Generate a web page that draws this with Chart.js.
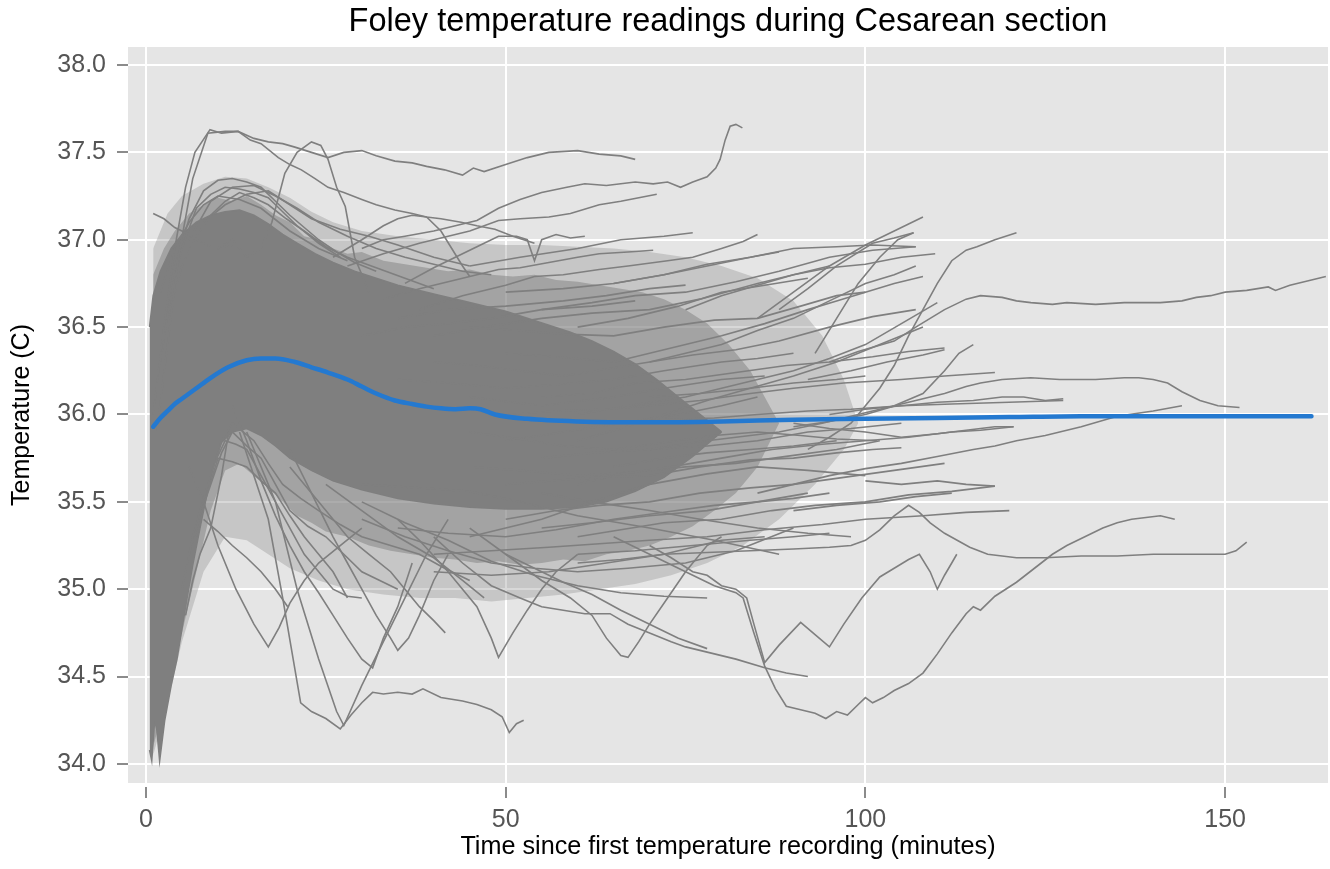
<!DOCTYPE html>
<html><head><meta charset="utf-8">
<script src="https://cdn.jsdelivr.net/npm/chart.js@4.4.1/dist/chart.umd.min.js"></script>
<style>html,body{margin:0;padding:0;background:#fff;}canvas{display:block;}</style>
</head><body>
<canvas id="c" width="1330" height="869"></canvas>
<script>
const xTicks=[0,50,100,150];
const yTicks=[34.0,34.5,35.0,35.5,36.0,36.5,37.0,37.5,38.0];

// density envelopes of the overlapping patient traces
const outerUpper=[[1,36.95],[3,37.15],[5,37.25],[8,37.32],[11,37.36],[14,37.35],[17,37.3],[20,37.24],[23,37.16],[26,37.1],[30,37.05],[35,37.02],[40,37.0],[45,36.98],[50,36.97],[55,36.97],[60,36.96],[65,36.95],[70,36.93],[75,36.9],[80,36.85],[85,36.78],[90,36.65],[94,36.45],[97,36.2],[99,35.95]];
const outerLower=[[1,34.05],[3,34.35],[5,34.7],[8,35.1],[11,35.3],[14,35.28],[17,35.2],[20,35.12],[24,35.05],[28,35.0],[33,34.97],[38,34.95],[43,34.95],[48,34.93],[53,34.95],[58,34.97],[63,35.0],[68,35.03],[73,35.08],[78,35.15],[83,35.25],[88,35.4],[93,35.6],[97,35.8],[99,35.95]];
const innerUpper=[[1,36.8],[2.5,36.95],[4,37.05],[6,37.15],[8,37.2],[10,37.24],[12,37.22],[14,37.25],[16,37.2],[18,37.14],[20,37.1],[22,37.02],[24,37.0],[26,36.95],[28,36.92],[30,36.93],[33,36.88],[36,36.86],[39,36.84],[42,36.82],[45,36.83],[48,36.8],[51,36.79],[54,36.8],[57,36.77],[60,36.76],[63,36.74],[66,36.72],[69,36.7],[72,36.66],[75,36.6],[78,36.52],[81,36.4],[84,36.25],[86,36.1],[88,35.95]];
const innerLower=[[1,34.1],[3,34.4],[5,34.75],[7,35.1],[9,35.45],[11,35.68],[13,35.72],[15,35.65],[17,35.58],[19,35.5],[21,35.42],[23,35.38],[25,35.33],[28,35.3],[31,35.25],[34,35.22],[37,35.2],[40,35.18],[43,35.17],[46,35.15],[49,35.16],[52,35.14],[55,35.15],[58,35.17],[61,35.16],[64,35.2],[67,35.22],[70,35.25],[73,35.3],[76,35.36],[79,35.45],[82,35.55],[85,35.7],[88,35.95]];
const coreUpper=[[0.5,36.5],[1,36.68],[2,36.82],[3.5,36.95],[5,37.03],[7,37.1],[9,37.14],[11,37.16],[13,37.17],[15,37.14],[17,37.09],[19,37.03],[21,36.98],[23.5,36.92],[26,36.87],[29,36.82],[32,36.78],[35,36.74],[38,36.71],[41,36.68],[44,36.65],[47,36.62],[50,36.59],[53,36.55],[56,36.51],[59,36.47],[62,36.42],[65,36.36],[68,36.29],[71,36.2],[74,36.1],[77,36.0],[80,35.9]];
const coreLower=[[0.5,34.08],[0.8,34.02],[1.2,34.25],[1.5,34.2],[1.9,34.02],[2.6,34.25],[3.5,34.45],[4.3,34.6],[5.5,34.9],[6.5,35.14],[7.5,35.35],[8.5,35.55],[9.5,35.72],[10.5,35.84],[12,35.9],[14,35.92],[16,35.88],[18,35.82],[20,35.75],[23,35.68],[26,35.62],[30,35.57],[35,35.52],[40,35.49],[45,35.47],[50,35.46],[55,35.46],[60,35.47],[64,35.5],[68,35.56],[72,35.64],[76,35.76],[80,35.9]];

const topLines=[
[[1,36.0],[2.5,36.5],[4,36.95],[5.5,37.3],[6.8,37.5],[8.9,37.63],[10.5,37.61],[12.8,37.62],[15,37.58],[17,37.56],[19,37.55],[20.7,37.53],[23,37.5],[25.3,37.47],[27.5,37.5],[30,37.51],[32,37.48],[34.6,37.45],[37,37.44],[39,37.42],[41.5,37.4],[44,37.37],[45.5,37.41],[47,37.39],[50,37.43],[53,37.47],[56,37.5],[60,37.51],[63,37.49],[66,37.48],[68,37.46]],
[[1.5,35.9],[3,36.4],[4.5,36.9],[6.5,37.35],[8.6,37.61],[11,37.62],[12.8,37.62],[14.5,37.57],[16,37.55],[18.4,37.47],[20,37.43],[21.6,37.4],[23.5,37.35],[25.3,37.3],[27.5,37.27],[30,37.23],[32,37.2],[34.6,37.17],[37,37.15],[39,37.13],[41,37.12],[43.8,37.1],[46,37.08],[48.5,37.06],[51,37.02],[54,36.98]],
[[10,36.95],[12,37.0],[14,36.9],[16,36.95],[17.5,37.1],[19.3,37.38],[21,37.5],[23,37.56],[24.3,37.54],[25.3,37.46],[26.5,37.3],[27.7,37.19],[29,36.9],[31,36.7]],
[[1,37.15],[2.5,37.12],[4,37.07],[5.5,37.04],[7,37.0],[8.5,36.97],[10,36.95],[12,36.97]],
[[30,36.95],[33,37.0],[36,37.02],[40,37.05],[43,37.08],[46,37.11],[49,37.18],[52,37.23],[55,37.27],[58.5,37.3],[61,37.32],[64,37.31],[68,37.33],[70.5,37.32],[72.5,37.33],[74.3,37.3],[76,37.33],[78,37.36],[79.2,37.41],[79.8,37.46],[80.5,37.57],[81.2,37.65],[82,37.66],[82.9,37.64]],
[[28,36.85],[33,36.92],[38,36.98],[42,37.02],[45,37.05],[49,37.11],[52,37.12],[56,37.13],[59,37.15],[63,37.2],[66,37.22],[68.5,37.24],[71,37.26]],
[[36,36.75],[40,36.84],[43,36.9],[46,36.96],[49,37.02],[51.5,37.02],[53,37.0],[54,36.88],[55,37.0],[57,37.03],[59,37.01],[61,37.02]],
[[33,36.66],[38,36.72],[42,36.76],[46,36.8],[49,36.83],[52,36.84],[56,36.87],[60,36.9],[63,36.92],[67,36.93],[70.5,36.94]],
[[38,36.6],[44,36.68],[50,36.74],[54,36.79],[58,36.8],[63,36.83],[67,36.85],[72.5,36.88],[76,36.9],[80,36.95],[83,36.99],[85,37.03]],
[[26,36.9],[30,37.0],[33,37.08],[35,37.12],[37,37.14],[39,37.13],[41,37.05],[42.5,36.95],[44,36.85],[45,36.79]],
[[2.5,36.5],[4,36.85],[6,37.12],[8,37.28],[10,37.34],[12,37.35],[14,37.33],[16,37.3],[18,37.22],[20,37.14],[22,37.07],[24,37.0],[26.5,36.93],[29,36.87],[32,36.82]],
[[2,36.3],[3.5,36.7],[5,36.95],[7,37.18],[9,37.26],[11,37.3],[13,37.29],[15,37.27],[17,37.24],[19,37.16],[21,37.08],[24,36.98],[27,36.9]],
[[3,36.55],[5,36.85],[7,37.02],[9,37.14],[11,37.22],[13,37.27],[15,37.24],[17,37.2],[19.5,37.12],[22,37.05],[25,36.96],[28,36.9],[32,36.84],[36,36.78],[40,36.72]],
[[6,37.0],[9,37.22],[12,37.3],[15,37.31],[18,37.25],[21,37.18],[24,37.1],[28,37.02],[32,36.95],[36,36.9],[40,36.86],[44,36.82],[48,36.8]],
[[8,37.1],[11,37.2],[14,37.26],[17,37.28],[20,37.2],[23,37.12],[27,37.06],[31,37.02],[35,36.97],[40,36.9],[45,36.85]],
[[2,36.7],[4,36.95],[6,37.1],[8,37.2],[10,37.25],[13,37.23],[16,37.18],[20,37.05],[24,36.95],[28,36.88]],
[[45,36.85],[52,36.9],[60,36.95],[66,37.0],[72,37.02],[76,37.04]],
[[35,36.55],[42,36.6],[50,36.62],[58,36.65],[64,36.68],[70,36.72],[75,36.74]],
[[30,36.45],[36,36.5],[42,36.52],[48,36.55],[55,36.6],[62,36.62],[68,36.65]]
];

const meshLines=[
[[40,36.3],[46,36.28],[52,36.25],[58,36.22],[64,36.26],[70,36.3],[76,36.34],[82,36.37],[88,36.42],[95,36.5],[101,36.56],[107,36.6]],
[[45,35.9],[52,35.86],[58,35.82],[65,35.8],[72,35.84],[79,35.88],[85,35.9],[91,35.88],[96,35.86],[101.6,35.85]],
[[50,35.6],[56,35.62],[63,35.64],[70,35.65],[77,35.7],[84,35.74],[90,35.75],[96,35.78],[101,35.8],[105,35.81]],
[[55,36.1],[62,36.12],[68,36.18],[75,36.2],[82,36.24],[89,36.28],[95,36.3],[101,36.33],[106,36.36],[111,36.38]],
[[50,35.4],[57,35.45],[63,35.48],[70,35.5],[77,35.55],[84,35.58],[90,35.6],[97,35.64],[104,35.68],[111,35.72]],
[[60,35.3],[66,35.34],[72,35.38],[80,35.4],[87,35.45],[93,35.48],[100,35.5],[106,35.54],[112,35.56],[118,35.59]],
[[40,35.2],[48,35.22],[56,35.24],[63,35.26],[70,35.28],[78,35.3],[86,35.34],[94,35.37],[100,35.4],[108,35.42],[114,35.44],[120,35.45]],
[[45,36.5],[52,36.48],[58,36.46],[65,36.45],[72,36.5],[79,36.54],[85,36.55],[91,36.62],[96,36.68],[100,36.7],[104,36.75],[108,36.79]],
[[55,36.6],[62,36.64],[68,36.68],[75,36.7],[82,36.76],[88,36.82],[95,36.9],[101,36.94],[107,36.96]],
[[50,36.0],[57,36.02],[64,36.03],[70,36.05],[77,36.08],[84,36.12],[90,36.15],[97,36.18],[105,36.2],[111,36.22],[118,36.24]],
[[60,35.6],[66,35.66],[73,35.7],[80,35.75],[87,35.8],[94,35.83],[100,35.85],[106,35.87],[112,35.9],[116,35.91],[120.6,35.93]],
[[65,35.95],[72,35.97],[79,35.98],[85,36.0],[92,36.02],[98,36.03],[105,36.05],[112,36.06],[120,36.07],[127.5,36.08]],
[[70,35.8],[76,35.84],[82,35.87],[88,35.9],[94,35.95],[99,36.0],[104,36.05],[108,36.12],[111,36.25],[113,36.35],[115,36.4]],
[[45,35.7],[52,35.68],[60,35.65],[68,35.67],[75,35.7],[82,35.72],[89,35.76],[96,35.8],[102,35.85]],
[[35,35.35],[42,35.32],[50,35.3],[57,35.34],[65,35.4],[72,35.44],[79,35.48],[85,35.5],[90,35.52],[95,35.55]],
[[30,35.4],[36,35.3],[42,35.22],[48,35.15],[54,35.12],[60,35.1],[67,35.12],[75,35.15],[82,35.22],[90,35.35]],
[[40,36.45],[47,36.5],[55,36.55],[62,36.58],[70,36.6],[77,36.66],[85,36.75],[90,36.8],[95,36.85]],
[[50,36.35],[57,36.33],[65,36.3],[72,36.37],[80,36.45],[86,36.52],[92,36.6],[96,36.65],[100,36.7]],
[[60,36.0],[67,36.05],[75,36.1],[82,36.17],[90,36.25],[95,36.32],[100,36.4],[105,36.52],[110,36.64]],
[[35,36.2],[42,36.18],[50,36.15],[57,36.17],[65,36.2],[72,36.25],[80,36.3],[85,36.32],[90,36.35]],
[[55,35.55],[62,35.5],[70,35.45],[77,35.4],[85,35.35],[92,35.32],[98,35.3]],
[[60,35.85],[66,35.92],[72,36.0],[78,36.08],[84,36.15],[90,36.22],[96,36.3],[102,36.4],[108,36.5]],
[[30,35.6],[38,35.58],[45,35.56],[52,35.5],[60,35.42],[70,35.35],[79,35.28],[88,35.2]],
[[45,35.3],[50,35.35],[55,35.4],[62,35.5],[70,35.6],[78,35.66],[85,35.7],[92,35.68],[100,35.65]],
[[70,36.3],[75,36.35],[80,36.4],[85,36.48],[90,36.55],[95,36.65],[100,36.75],[104,36.8],[107,36.85]],
[[75,36.6],[80,36.68],[85,36.74],[90,36.8],[95,36.84],[100,36.86],[105,36.9],[109.7,36.92]],
[[65,36.75],[72,36.8],[78,36.86],[84,36.9],[90,36.95],[96,36.96],[101,36.97],[107,36.96]],
[[55,35.75],[62,35.78],[70,35.8],[78,35.82],[85,35.85],[92,35.9],[98,35.92],[105,35.95]],
[[50,36.7],[58,36.72],[65,36.75],[72,36.8],[78,36.85],[84,36.9],[88,36.93]],
[[45,36.1],[55,36.05],[65,36.1],[72,36.15],[80,36.2],[86,36.22]],
[[50,35.85],[58,35.9],[66,35.95],[74,36.0],[80,36.05],[85,36.1]],
[[55,35.35],[62,35.38],[70,35.42],[78,35.45],[85,35.5],[92,35.55]],
[[40,35.1],[48,35.08],[56,35.1],[64,35.15],[72,35.2],[80,35.28],[86,35.3]],
[[60,36.5],[67,36.55],[74,36.62],[80,36.7],[86,36.74],[92,36.78]],
[[65,35.7],[72,35.75],[78,35.78],[84,35.8],[90,35.82],[96,35.85]],
[[70,36.1],[77,36.12],[84,36.15],[90,36.18],[96,36.2],[100,36.22]],
[[60,35.2],[68,35.22],[76,35.25],[84,35.28],[90,35.3],[95,35.32]]
];

const rightLines=[
[[95,36.3],[99,36.36],[104,36.42],[107,36.5],[109,36.55],[111,36.6],[114,36.66],[116,36.68],[119,36.67],[121,36.65],[123,36.64],[126,36.63],[128,36.64],[132,36.63],[136,36.64],[141,36.64],[144,36.65],[146,36.67],[148,36.68],[150,36.7],[153,36.71],[156,36.73],[157,36.71],[159,36.74],[162,36.77],[164,36.79]],
[[90,35.93],[95,35.96],[100,36.0],[105,36.06],[108,36.09],[111,36.12],[114,36.16],[116,36.18],[119,36.2],[123,36.21],[127,36.2],[132,36.2],[136,36.21],[138,36.21],[140,36.2],[142,36.18],[144,36.13],[146.5,36.08],[149,36.05],[152,36.04]],
[[85,35.55],[90,35.6],[95,35.65],[100,35.69],[105,35.72],[110,35.76],[115,35.8],[118,35.82],[121,35.85],[125,35.88],[130,35.93],[135,35.99],[140,36.02],[144,36.05]],
[[92,35.8],[95,35.87],[98,35.95],[100,36.05],[102,36.15],[104,36.28],[106,36.45],[108,36.6],[110,36.75],[112,36.88],[114,36.94],[115.5,36.96],[118,37.0],[121,37.04]],
[[95,36.0],[100,36.03],[105,36.05],[110,36.07],[115,36.08],[119,36.1],[122,36.1],[125,36.08],[127.5,36.09]],
[[90,35.95],[95,35.92],[100,35.9],[105,35.87],[110,35.89],[114,35.91],[118,35.93],[120.6,35.93]],
[[85,36.55],[90,36.7],[95,36.85],[100,36.97],[104,37.05],[106,37.09],[108,37.13]],
[[88,36.6],[92,36.72],[96,36.85],[101,36.98],[104,37.01],[106.7,37.04]],
[[92,36.2],[98,36.25],[103,36.3],[108,36.34],[111,36.37]],
[[100,35.62],[105,35.6],[110,35.62],[114,35.6],[118,35.59]],
[[93,36.35],[96,36.55],[99,36.75],[102,36.9],[104.5,37.0],[106.7,37.04]],
[[90,35.45],[96,35.48],[102,35.5],[107,35.53],[112,35.55]]
];

const bottomLines=[
[[13,35.9],[15,35.65],[17,35.4],[19,34.95],[21.5,34.35],[23,34.3],[25,34.26],[27,34.2],[28.5,34.28],[30,34.35],[31.5,34.41],[33,34.4],[35,34.41],[37,34.4],[38.5,34.43],[41,34.38],[44,34.36],[46,34.34],[48,34.31],[49.5,34.27],[50.5,34.18],[51.5,34.23],[52.5,34.25]],
[[14,35.9],[18,35.5],[21,35.0],[24,34.6],[26.5,34.3],[27.5,34.22],[30,34.45],[33,34.7],[36,34.95],[39,35.2],[42,35.4]],
[[6,35.7],[8,35.5],[10,35.25],[12.5,35.0],[15,34.8],[17,34.67],[18.5,34.78],[20,34.92],[22,35.05],[24,35.15],[27,35.25],[30,35.35]],
[[5.5,34.85],[6.5,35.05],[7.5,35.2],[9,35.35],[10.5,35.65],[11.5,35.9]],
[[8,35.4],[10,35.33],[12,35.25],[14,35.18],[16,35.1],[18,35.0],[19.7,34.9]],
[[12,36.05],[14,35.85],[16,35.62],[18,35.42],[20,35.25],[22,35.1],[24,34.98],[26,34.85],[28,34.72],[30,34.6],[31.5,34.55],[33,34.72],[35,34.9],[37,35.15]],
[[20,35.8],[23,35.55],[26,35.3],[28,35.15],[30,35.0],[32,34.85],[34,34.72],[35,34.65],[36.5,34.72],[38,34.85],[40,35.05],[42,35.2]],
[[20,35.7],[24,35.5],[28,35.3],[31,35.2],[34,35.1],[36,35.0],[38,34.9],[40,34.82],[41.6,34.75]],
[[35,35.4],[38,35.28],[42,35.1],[44,35.0],[46,34.9],[48,34.72],[49,34.61],[50,34.68],[51,34.75],[53,34.88],[55,35.0],[57,35.1],[60,35.2]],
[[40,35.3],[44,35.15],[48,35.02],[52,34.95],[55,34.9],[58,34.88],[61,34.86],[64.5,34.86],[67,34.8],[70,34.75],[73,34.7],[75,34.67],[79,34.63],[82,34.6],[86,34.55],[89,34.52],[92,34.5]],
[[45,35.35],[50,35.2],[55,35.05],[59,34.95],[62,34.85],[64,34.72],[66,34.62],[67,34.61],[68.5,34.7],[70,34.8],[72.5,34.95],[75,35.1],[78,35.25],[80,35.3]],
[[50,35.2],[54,35.12],[58,35.04],[62,34.97],[66,34.88],[70,34.8],[74,34.72],[78,34.66]],
[[70,35.25],[73,35.18],[76,35.1],[78,35.08],[80,35.02],[82,35.0],[83.5,34.95],[84.5,34.8],[86,34.58],[88,34.68],[91,34.81],[93,34.74],[95,34.67],[97,34.8],[99.5,34.95],[102,35.07],[104,35.12],[106,35.17],[107.5,35.2],[109,35.1],[110,35.0],[111,35.08],[112,35.15],[112.7,35.2]],
[[65,35.3],[70,35.2],[75,35.1],[79,35.02],[82,34.98],[83,34.95],[84.5,34.75],[86,34.56],[87.5,34.43],[89,34.33],[91,34.31],[93,34.29],[94.5,34.26],[96,34.3],[97.5,34.28],[99,34.34],[100,34.38],[101,34.35],[102.5,34.38],[104,34.42],[106,34.46],[108,34.52],[110,34.63],[112,34.75],[114,34.86],[115,34.9],[116,34.88],[118,34.96],[121,35.04],[123.5,35.12],[126,35.2],[128,35.25],[130.5,35.3],[133,35.35],[135,35.38],[137,35.4],[139,35.41],[141,35.42],[143,35.4]],
[[60,35.15],[66,35.17],[72,35.2],[78,35.21],[84,35.22],[90,35.23],[95,35.24],[98,35.25],[100,35.28],[102,35.34],[104,35.42],[106,35.48],[107.5,35.44],[109,35.38],[111,35.32],[114.5,35.24],[117,35.2],[121,35.18],[125,35.18],[130,35.19],[135,35.19],[140,35.2],[145,35.2],[150,35.2],[151.5,35.22],[153,35.27]],
[[30,35.5],[36,35.38],[42,35.28],[48,35.16],[54,35.08],[60,35.02],[66,34.98],[72,34.96],[78,34.95]],
[[25,35.6],[30,35.45],[35,35.3],[40,35.18],[44,35.05],[47,34.95]],
[[5,35.0],[6.5,35.3],[8,35.52],[9.5,35.72],[11,35.85],[12.5,35.83],[14,35.8],[16,35.65],[18,35.5],[20,35.35],[22,35.2],[24,35.1],[26,35.0],[28,34.96],[30,34.95]],
[[6,35.2],[7.5,35.42],[9,35.6],[10.5,35.78],[12,35.9],[14,35.82],[16,35.75],[18,35.6],[20,35.45],[22.5,35.36],[25,35.3],[27.5,35.2],[30,35.1],[32.5,35.05],[35,35.0]],
[[7,35.3],[8.5,35.55],[10,35.75],[12,35.73],[14,35.7],[16,35.62],[18,35.55],[20,35.42],[22,35.3],[24,35.2],[26,35.1],[28,34.95]],
[[9,35.65],[10.5,35.85],[12,35.95],[13.5,35.9],[15,35.85],[17,35.72],[19,35.6],[21.5,35.52],[24,35.45],[27,35.37],[30,35.3],[34,35.25],[38,35.2],[41.5,35.12],[45,35.05]]
];

const smoothTime=[1,2,3,4,5,7,9,11.4,14,16,18,20.7,23,25.3,28,30,32,34.6,37,39,41,43,45,46.5,48.5,53,60,70,80,90,100,110,120,130,162];
const smoothTemp=[35.93,35.98,36.02,36.06,36.09,36.15,36.21,36.27,36.31,36.32,36.32,36.3,36.27,36.24,36.2,36.16,36.12,36.08,36.06,36.045,36.035,36.03,36.035,36.03,36.0,35.975,35.96,35.955,35.96,35.97,35.975,35.98,35.985,35.99,35.99];

const GRAY='#7f7f7f';
const toPts=a=>a.map(p=>({x:p[0],y:p[1]}));
const grayLine=a=>({data:toPts(a),borderColor:GRAY,borderWidth:1.6,pointRadius:0,fill:false,order:1,tension:0});
const band=(up,lo,col,ord)=>[
  {data:toPts(up),borderWidth:0,borderColor:'rgba(0,0,0,0)',backgroundColor:col,pointRadius:0,fill:'+1',order:ord},
  {data:toPts(lo),borderWidth:0,borderColor:'rgba(0,0,0,0)',pointRadius:0,fill:false,order:ord}
];

const datasets=[];
datasets.push({data:smoothTime.map((t,i)=>({x:t,y:smoothTemp[i]})),borderColor:'#2479D0',borderWidth:4.5,pointRadius:0,fill:false,order:0,cubicInterpolationMode:'monotone',borderCapStyle:'round'});
datasets.push(...band(outerUpper,outerLower,'rgba(127,127,127,0.3)',5));
datasets.push(...band(innerUpper,innerLower,'rgba(127,127,127,0.5)',4));
datasets.push({data:toPts(coreUpper),borderColor:GRAY,borderWidth:1.6,backgroundColor:GRAY,pointRadius:0,fill:'+1',order:3});
datasets.push({data:toPts(coreLower),borderColor:GRAY,borderWidth:1.6,pointRadius:0,fill:false,order:3});
[topLines,meshLines,rightLines,bottomLines].forEach(g=>g.forEach(l=>datasets.push(grayLine(l))));

const panelBg={id:'panelBg',beforeDraw(chart){const {ctx,chartArea:a}=chart;ctx.save();ctx.fillStyle='#E5E5E5';ctx.fillRect(a.left,a.top,a.right-a.left,a.bottom-a.top);ctx.restore();}};

Chart.defaults.font.family="'Liberation Sans', Arial, sans-serif";
new Chart(document.getElementById('c'),{
  type:'line',
  data:{datasets},
  plugins:[panelBg],
  options:{
    responsive:false,animation:false,
    layout:{padding:{left:0,right:2,top:0,bottom:0}},
    plugins:{
      legend:{display:false},tooltip:{enabled:false},
      title:{display:true,fullSize:false,text:'Foley temperature readings during Cesarean section',color:'#000',font:{size:32.5,weight:'normal'},padding:{top:3,bottom:5}}
    },
    scales:{
      x:{type:'linear',min:-2.5,max:164.3,
        afterBuildTicks:s=>{s.ticks=xTicks.map(v=>({value:v}));},
        afterFit:s=>{s.height=86;},
        ticks:{color:'#555',font:{size:25},padding:7,maxRotation:0,callback:v=>String(v)},
        grid:{color:'#ffffff',lineWidth:2,tickColor:'#666',tickLength:15,tickWidth:1.5,tickBorderDash:[0,4,11,60]},
        border:{display:false},
        title:{display:true,text:'Time since first temperature recording (minutes)',color:'#000',font:{size:25.2},padding:{top:0,bottom:7}}
      },
      y:{type:'linear',min:33.891,max:38.103,
        afterBuildTicks:s=>{s.ticks=yTicks.map(v=>({value:v}));},
        afterFit:s=>{s.width=128;},
        ticks:{color:'#555',font:{size:25},padding:7,callback:v=>Number(v).toFixed(1)},
        grid:{color:'#ffffff',lineWidth:2,tickColor:'#666',tickLength:15,tickWidth:1.5,tickBorderDash:[0,4,11,60]},
        border:{display:false},
        title:{display:true,text:'Temperature (C)',color:'#000',font:{size:25},padding:{top:7,bottom:0}}
      }
    }
  }
});
</script>
</body></html>
